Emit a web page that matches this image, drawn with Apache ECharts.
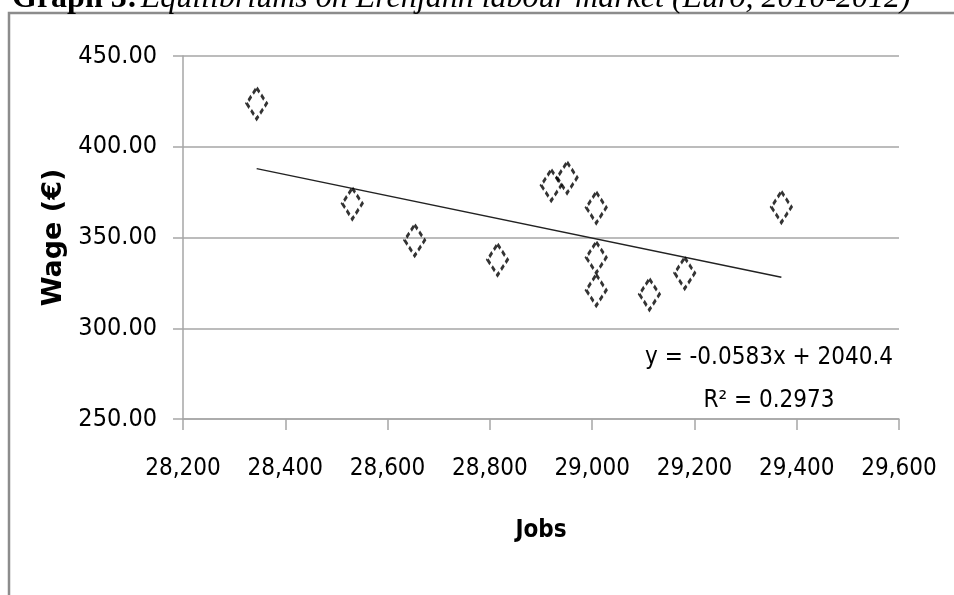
<!DOCTYPE html>
<html><head><meta charset="utf-8">
<script src="https://cdn.jsdelivr.net/npm/echarts@6/dist/echarts.min.js"></script>
<style>html,body{margin:0;padding:0;background:#fff}#c{width:954px;height:595px}</style>
</head><body><div id="c"></div>
<script>
const jobs = [28344, 28531, 28653, 28815, 28920, 28951, 29008, 29008, 29008, 29112, 29181, 29370];
const wages = [423.9, 368.7, 348.5, 337.8, 378.8, 383.0, 366.5, 339.0, 321.0, 318.7, 330.4, 366.8];
const trendSlope = -0.0583;
const trendIntercept = 2040.4;
const eqLabel = 'y = -0.0583x + 2040.4';
const r2Label = 'R² = 0.2973';
const xTicks = [28200, 28400, 28600, 28800, 29000, 29200, 29400, 29600];
const yTicks = [250, 300, 350, 400, 450];

const pts = jobs.map((x, i) => [x, wages[i]]);
const xMin = Math.min(...jobs), xMax = Math.max(...jobs);
const trend = [[xMin, trendSlope * xMin + trendIntercept], [xMax, trendSlope * xMax + trendIntercept]];
const FONT = '"DejaVu Sans Condensed", "Liberation Sans Narrow", sans-serif';
const chart = echarts.init(document.getElementById('c'), null, {renderer: 'canvas'});
chart.setOption({
  animation: false,
  backgroundColor: '#fff',
  grid: {left: 183, top: 56, right: 55, bottom: 176, containLabel: false},
  xAxis: {
    type: 'value', min: xTicks[0], max: xTicks[xTicks.length - 1], interval: 200,
    name: 'Jobs', nameLocation: 'middle', nameGap: 100,
    nameTextStyle: {fontFamily: FONT, fontWeight: 'bold', fontSize: 24, color: '#000'},
    axisLine: {lineStyle: {color: '#a6a6a6', width: 1.5}},
    axisTick: {show: true, length: 11, lineStyle: {color: '#a6a6a6', width: 1.5}},
    axisLabel: {fontFamily: FONT, fontSize: 24, color: '#000', margin: 38,
      formatter: v => v.toLocaleString('en-US')},
    splitLine: {show: false}
  },
  yAxis: {
    type: 'value', min: yTicks[0], max: yTicks[yTicks.length - 1], interval: 50,
    name: 'Wage (€)', nameLocation: 'middle', nameGap: 106, nameRotate: 90,
    nameTextStyle: {fontFamily: '"DejaVu Sans", sans-serif', fontWeight: 'bold', fontSize: 27, color: '#000'},
    axisLine: {show: true, lineStyle: {color: '#a6a6a6', width: 1.5}},
    axisTick: {show: true, length: 10, lineStyle: {color: '#a6a6a6', width: 1.5}},
    axisLabel: {fontFamily: FONT, fontSize: 25, color: '#000', margin: 26,
      formatter: v => v.toFixed(2)},
    splitLine: {show: true, lineStyle: {color: '#a6a6a6', width: 1.5}}
  },
  series: [
    {
      type: 'line', data: trend, symbol: 'none',
      lineStyle: {color: '#222', width: 1.5}, z: 2, silent: true
    },
    {
      type: 'scatter', data: pts, symbol: 'diamond', symbolSize: [20, 31],
      itemStyle: {color: 'rgba(255,255,255,0)', borderColor: '#000', borderWidth: 3, borderType: [5, 3]},
      z: 3
    }
  ],
  graphic: [
    {type: 'rect', shape: {x: 9, y: 13, width: 1000, height: 700},
      style: {fill: 'none', stroke: '#8c8c8c', lineWidth: 2.5}, z: -1},
    {type: 'text', left: 12, top: -17, style: {
      text: '{b|Graph 3:} {i|Equilibriums on Erenjahn labour market (Euro, 2010-2012)}',
      rich: {
        b: {fontFamily: '"Liberation Serif", serif', fontWeight: 'bold', fontSize: 32, fill: '#000'},
        i: {fontFamily: '"Liberation Serif", serif', fontStyle: 'italic', fontSize: 32, fill: '#000'}
      }}},
    {type: 'text', x: 769, y: 358, style: {text: eqLabel, fontFamily: FONT, fontSize: 24, fill: '#000', align: 'center', verticalAlign: 'middle'}},
    {type: 'text', x: 769, y: 401, style: {text: r2Label, fontFamily: FONT, fontSize: 24, fill: '#000', align: 'center', verticalAlign: 'middle'}}
  ]
});
</script></body></html>
